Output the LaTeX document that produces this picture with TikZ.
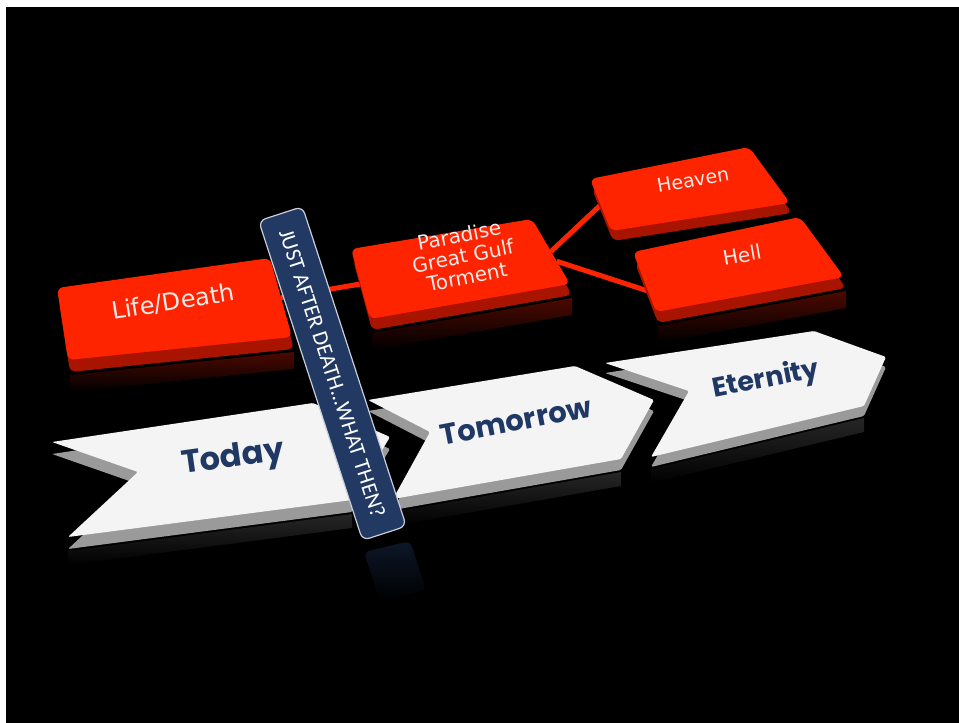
\documentclass[tikz,border=0pt]{standalone}
\usepackage{fontspec}
\setmainfont{DejaVu Sans}
\newfontfamily\stepfont{Poppins}
\newfontfamily\bannerfont{Carlito}
\usepackage{tikz}
\usetikzlibrary{positioning, calc}

\definecolor{boxred}{HTML}{FF2400}
\definecolor{boxside}{HTML}{A81400}
\definecolor{chevwhite}{HTML}{F4F4F4}
\definecolor{chevgray}{HTML}{9A9A9A}
\definecolor{stepnavy}{HTML}{1F3864}
\definecolor{bannernavy}{HTML}{223A63}
\definecolor{labelgray}{HTML}{ECECEC}

\begin{document}
\begin{tikzpicture}[x=1pt, y=-1pt,
    redface/.style={fill=boxred, rounded corners=6pt},
    redside/.style={fill=boxside, rounded corners=6pt},
    chevface/.style={fill=chevwhite, rounded corners=1.5pt},
    chevside/.style={fill=chevgray, rounded corners=1.5pt},
    mirror/.style={top color=#1, bottom color=black, draw=none},
    boxlabel/.style={text=labelgray, align=center, inner sep=0pt, font=\fontsize{24}{26}\selectfont},
    steplabel/.style={text=stepnavy, inner sep=0pt, font=\stepfont\bfseries\fontsize{30}{32}\selectfont},
    link/.style={draw=boxred, line width=5pt},
    banner/.style={fill=bannernavy, draw=white!75!bannernavy, line width=1.2pt, rounded corners=7pt,
        text=white, minimum width=336pt, minimum height=46pt, inner sep=0pt,
        font=\bannerfont\fontsize{22}{24}\selectfont}
]

% Canvas
\useasboundingbox (0,0) rectangle (959,723);
\fill[white] (0,0) rectangle (959,723);
\fill[black] (6,7) rectangle (959,723);

% Box corners
\coordinate (ld-nw) at (57,288);  \coordinate (ld-ne) at (270,258);
\coordinate (ld-se) at (292,337); \coordinate (ld-sw) at (68,360);
\coordinate (pg-nw) at (351,249); \coordinate (pg-ne) at (532,219);
\coordinate (pg-se) at (570,284); \coordinate (pg-sw) at (370,319);
\coordinate (hv-nw) at (590,179); \coordinate (hv-ne) at (749,147);
\coordinate (hv-se) at (790,203); \coordinate (hv-sw) at (611,231);
\coordinate (hl-nw) at (633,252); \coordinate (hl-ne) at (800,217);
\coordinate (hl-se) at (844,277); \coordinate (hl-sw) at (656,312);

% Chevron corners
\coordinate (et-nw) at (605,363); \coordinate (et-ne) at (814,331);
\coordinate (et-tip) at (886,357); \coordinate (et-se) at (864,406);
\coordinate (et-sw) at (651,457); \coordinate (et-in) at (689,391);
\coordinate (tm-nw) at (368,400); \coordinate (tm-ne) at (575,366);
\coordinate (tm-tip) at (654,400); \coordinate (tm-se) at (621,459);
\coordinate (tm-sw) at (393,499); \coordinate (tm-in) at (430,432);
\coordinate (td-nw) at (52,442);  \coordinate (td-ne) at (313,403);
\coordinate (td-tip) at (390,437); \coordinate (td-se) at (352,500);
\coordinate (td-sw) at (68,537);  \coordinate (td-in) at (138,472);

% Link ends
\coordinate (ld-e) at ($(ld-ne)!.5!(ld-se)$);
\coordinate (pg-w) at ($(pg-nw)!.5!(pg-sw)$);
\coordinate (pg-e1) at ($(pg-ne)!.5!(pg-se)$);
\coordinate (pg-e2) at ($(pg-ne)!.65!(pg-se)$);
\coordinate (hv-w) at ($(hv-nw)!.5!(hv-sw)$);
\coordinate (hl-w) at ($(hl-nw)!.65!(hl-sw)$);

% Reflections
\foreach \b/\dy in {ld/12, pg/11, hl/11}
    \fill[mirror=boxside!45!black] ([shift={(2,\dy+3)}]\b-sw) -- ([shift={(2,\dy+3)}]\b-se)
        -- ([shift={(2,\dy+20)}]\b-se) -- ([shift={(2,\dy+20)}]\b-sw) -- cycle;
\foreach \c/\dy in {et/10, tm/11, td/12}
    \fill[mirror=gray!30!black] ([shift={(0,\dy+2)}]\c-sw) -- ([shift={(0,\dy+2)}]\c-se)
        -- ([shift={(0,\dy+16)}]\c-se) -- ([shift={(0,\dy+16)}]\c-sw) -- cycle;
\fill[mirror=bannernavy!40!black, rounded corners=6pt] (364,552) -- (410,541) -- (426,590) -- (380,601) -- cycle;

% Connections
\draw[link] (ld-e) -- (pg-w);
\draw[link] (pg-e1) -- (hv-w);
\draw[link] (pg-e2) -- (hl-w);

% Red boxes
\foreach \b/\dy in {ld/12, pg/11, hv/10, hl/11} {
    \fill[redside] ([shift={(2,\dy)}]\b-nw) -- ([shift={(2,\dy)}]\b-ne)
        -- ([shift={(2,\dy)}]\b-se) -- ([shift={(2,\dy)}]\b-sw) -- cycle;
    \fill[redface] (\b-nw) -- (\b-ne) -- (\b-se) -- (\b-sw) -- cycle;
}

% Chevrons
\foreach \c/\dy in {et/10, tm/11, td/12} {
    \fill[chevside] ([shift={(0,\dy)}]\c-nw) -- ([shift={(0,\dy)}]\c-ne) -- ([shift={(0,\dy)}]\c-tip)
        -- ([shift={(0,\dy)}]\c-se) -- ([shift={(0,\dy)}]\c-sw) -- ([shift={(0,\dy)}]\c-in) -- cycle;
    \fill[chevface] (\c-nw) -- (\c-ne) -- (\c-tip) -- (\c-se) -- (\c-sw) -- (\c-in) -- cycle;
}

% Nodes
\node[boxlabel, rotate=9] (life) at (173,302) {Life/Death};
\node[boxlabel, rotate=11, font=\fontsize{20}{21}\selectfont] (paradise) at (463,256) {Paradise\\Great Gulf\\Torment};
\node[boxlabel, rotate=10, font=\fontsize{19}{21}\selectfont] (heaven) at (693,180) {Heaven};
\node[boxlabel, rotate=10, font=\fontsize{20}{22}\selectfont] (hell) at (742,255) {Hell};

\node[steplabel, rotate=8, font=\stepfont\bfseries\fontsize{32}{34}\selectfont] (today) at (233,459) {Today};
\node[steplabel, rotate=11, font=\stepfont\bfseries\fontsize{29}{31}\selectfont] (tomorrow) at (516,421) {Tomorrow};
\node[steplabel, rotate=11, font=\stepfont\bfseries\fontsize{27}{29}\selectfont] (eternity) at (766,380) {Eternity};

\node[banner, rotate=-72] (banner) at (332.5,373.5) {JUST AFTER DEATH...WHAT THEN?};

\end{tikzpicture}
\end{document}
